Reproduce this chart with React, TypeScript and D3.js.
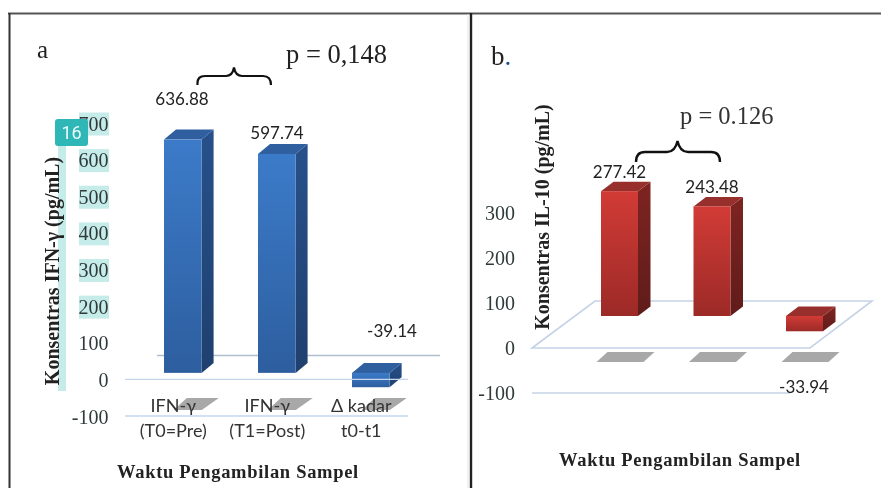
import * as d3 from "d3";

const W = 881;
const H = 488;
const SERIF = "'Liberation Serif', serif";
const SANS = "Lato, sans-serif";

// values
const ifnCategories = ["pre", "post", "delta"];
const ifnValues = [636.88, 597.74, -39.14];
const ifnLabelTop = ["IFN-γ", "IFN-γ", "Δ kadar"];
const ifnLabelBottom = ["(T0=Pre)", "(T1=Post)", "t0-t1"];
const il10Categories = ["pre", "post", "delta"];
const il10Values = [277.42, 243.48, -33.94];

interface Palette {
  id: string;
  frontTop: string;
  frontBottom: string;
  sideTop: string;
  sideBottom: string;
  top: string;
}

const BLUE: Palette = {
  id: "blue",
  frontTop: "#3c7bc9",
  frontBottom: "#2d5e9f",
  sideTop: "#27508a",
  sideBottom: "#1f406f",
  top: "#2f5f9f",
};
const RED: Palette = {
  id: "red",
  frontTop: "#d23b36",
  frontBottom: "#9c2a27",
  sideTop: "#7e2421",
  sideBottom: "#5f1c1a",
  top: "#97302c",
};

const poly = (pts: [number, number][]) => {
  const p = d3.path();
  pts.forEach(([x, y], i) => (i === 0 ? p.moveTo(x, y) : p.lineTo(x, y)));
  p.closePath();
  return p.toString();
};

function Bars({
  values,
  x,
  y,
  lift,
  dx,
  dy,
  pal,
  keys,
}: {
  values: number[];
  x: d3.ScaleBand<string>;
  y: d3.ScaleLinear<number, number>;
  lift: number;
  dx: number;
  dy: number;
  pal: Palette;
  keys: string[];
}) {
  return (
    <g>
      {values.map((v, i) => {
        const x0 = x(keys[i]) as number;
        const x1 = x0 + x.bandwidth();
        const yTop = Math.min(y(v), y(0)) - lift;
        const yBot = Math.max(y(v), y(0)) - lift;
        return (
          <g key={keys[i]}>
            <path
              d={poly([[x1, yTop], [x1 + dx, yTop - dy], [x1 + dx, yBot - dy], [x1, yBot]])}
              fill={`url(#${pal.id}-side)`}
            />
            <path
              d={poly([[x0, yTop], [x0 + dx, yTop - dy], [x1 + dx, yTop - dy], [x1, yTop]])}
              fill={pal.top}
            />
            <rect x={x0} y={yTop} width={x.bandwidth()} height={yBot - yTop} fill={`url(#${pal.id}-front)`} />
          </g>
        );
      })}
    </g>
  );
}

function PanelA() {
  const y = d3.scaleLinear().domain([-100, 700]).range([417, 124]);
  const x = d3
    .scaleBand<string>()
    .domain(ifnCategories)
    .range([135.8, 417.8])
    .paddingInner(0.6)
    .paddingOuter(0.3);
  const highlighted = [200, 300, 400, 500, 600, 700];
  const valueX = [182, 277, 392];
  const valueY = [105, 139, 337];

  return (
    <g>
      <rect x={58} y={146} width={8} height={245} fill="#c6ecea" />
      {highlighted.map((t) => (
        <rect key={t} x={79} y={y(t) - 11.5} width={30} height={23} fill="#c6ecea" />
      ))}
      <line x1={157} x2={440} y1={355.5} y2={355.5} stroke="#aebfcd" strokeWidth={1.6} />
      <line x1={125} x2={408} y1={y(-100) - 1} y2={y(-100) - 1} stroke="#c3d6ee" strokeWidth={1.4} />
      {ifnCategories.map((c) => {
        const cx = (x(c) as number) + x.bandwidth() / 2;
        return (
          <path
            key={c}
            d={poly([[cx - 9, 410], [cx + 19, 410], [cx + 36, 398], [cx + 4, 398]])}
            fill="#a8a8a8"
          />
        );
      })}
      <Bars values={ifnValues} x={x} y={y} lift={7.5} dx={12} dy={10} pal={BLUE} keys={ifnCategories} />
      <line x1={125} x2={408} y1={y(0) - 1} y2={y(0) - 1} stroke="#c3d6ee" strokeWidth={1.4} />
      {y.ticks(8).map((t) => (
        <text key={t} x={108.5} y={y(t) + 6.5} textAnchor="end" fontFamily={SERIF} fontSize={20} fill="#2f3a3a">
          {String(t)}
        </text>
      ))}
      {ifnValues.map((v, i) => (
        <text key={i} x={valueX[i]} y={valueY[i]} textAnchor="middle" fontFamily={SANS} fontSize={17} fill="#222">
          {v}
        </text>
      ))}
      {ifnCategories.map((c, i) => {
        const cx = (x(c) as number) + x.bandwidth() / 2 - 9.5;
        return (
          <g key={c} textAnchor="middle" fontFamily={SANS} fontSize={18} fill="#333">
            <text x={cx} y={412}>{ifnLabelTop[i]}</text>
            <text x={cx} y={437}>{ifnLabelBottom[i]}</text>
          </g>
        );
      })}
      <text
        transform="translate(59,271) rotate(-90)"
        textAnchor="middle"
        fontFamily={SERIF}
        fontWeight="bold"
        fontSize={20}
        fill="#222"
      >
        Konsentras IFN-γ (pg/mL)
      </text>
      <text x={238} y={478} textAnchor="middle" fontFamily={SERIF} fontWeight="bold" fontSize={18.5} letterSpacing={0.7} fill="#222">
        Waktu Pengambilan Sampel
      </text>
      <text x={37} y={58} fontFamily={SERIF} fontSize={25} fill="#222">a</text>
      <text x={286} y={63} fontFamily={SERIF} fontSize={26.5} fill="#222">p = 0,148</text>
      <path
        d="M197.5,85 C197,78 200,76 205,76 L226,76 C231,76 233,73 234,67.5 C235,73 237,76 242,76 L263,76 C268,76 271,78 271,85"
        fill="none"
        stroke="#111"
        strokeWidth={2.2}
      />
      <rect x={55} y={119} width={33} height={27} rx={3} fill="#2fb6b6" />
      <text x={71.5} y={139} textAnchor="middle" fontFamily="Roboto, sans-serif" fontSize={18} fill="#e9fbfa">16</text>
    </g>
  );
}

function PanelB() {
  const y = d3.scaleLinear().domain([-100, 300]).range([393, 213]);
  const x = d3
    .scaleBand<string>()
    .domain(il10Categories)
    .range([573.25, 850.75])
    .paddingInner(0.6)
    .paddingOuter(0.3);
  const valueX = [619.5, 712, 804];
  const valueY = [178, 193, 393];

  return (
    <g>
      <path
        d={poly([[532, y(0)], [595, 301], [872, 301], [810, y(0)]])}
        fill="none"
        stroke="#c5d3e6"
        strokeWidth={1.6}
      />
      <line x1={532} x2={790} y1={y(-100)} y2={y(-100)} stroke="#c5d3e6" strokeWidth={1.6} />
      {il10Categories.map((c) => {
        const cx = (x(c) as number) + x.bandwidth() / 2;
        return (
          <path
            key={c}
            d={poly([[cx - 23, 362], [cx + 24, 362], [cx + 35, 352], [cx - 12, 352]])}
            fill="#a8a8a8"
          />
        );
      })}
      <Bars values={il10Values} x={x} y={y} lift={32} dx={12.5} dy={9.5} pal={RED} keys={il10Categories} />
      {y.ticks(4).map((t) => (
        <text key={t} x={515} y={y(t) + 6.5} textAnchor="end" fontFamily={SERIF} fontSize={20} fill="#2f3a3a">
          {String(t)}
        </text>
      ))}
      {il10Values.map((v, i) => (
        <text key={i} x={valueX[i]} y={valueY[i]} textAnchor="middle" fontFamily={SANS} fontSize={17} fill="#222">
          {v}
        </text>
      ))}
      <text
        transform="translate(549,217) rotate(-90)"
        textAnchor="middle"
        fontFamily={SERIF}
        fontWeight="bold"
        fontSize={20}
        fill="#222"
      >
        Konsentras IL-10 (pg/mL)
      </text>
      <text x={680} y={466} textAnchor="middle" fontFamily={SERIF} fontWeight="bold" fontSize={18.5} letterSpacing={0.7} fill="#222">
        Waktu Pengambilan Sampel
      </text>
      <text x={491} y={65} fontFamily={SERIF} fontSize={27} fill="#222">
        b<tspan fill="#1f4e8c">.</tspan>
      </text>
      <text x={680} y={124} fontFamily={SERIF} fontSize={24.5} fill="#333">p = 0.126</text>
      <path
        d="M636,162 C636,155 639,152 645,152 L667,152 C673,152 676,148 677.5,141 C679,148 682,152 688,152 L711,152 C717,152 720,155 720,162"
        fill="none"
        stroke="#111"
        strokeWidth={2.4}
      />
    </g>
  );
}

export default function App() {
  const grads = [BLUE, RED];
  return (
    <svg
      width={W}
      height={H}
      viewBox={`0 0 ${W} ${H}`}
      style={{ position: "absolute", left: 0, top: 0, background: "#fff", filter: "blur(0.4px)" }}
    >
      <defs>
        {grads.map((p) => (
          <g key={p.id}>
            <linearGradient id={`${p.id}-front`} x1="0" y1="0" x2="0" y2="1">
              <stop offset="0" stopColor={p.frontTop} />
              <stop offset="1" stopColor={p.frontBottom} />
            </linearGradient>
            <linearGradient id={`${p.id}-side`} x1="0" y1="0" x2="0" y2="1">
              <stop offset="0" stopColor={p.sideTop} />
              <stop offset="1" stopColor={p.sideBottom} />
            </linearGradient>
          </g>
        ))}
      </defs>
      <line x1={8} x2={W} y1={13.5} y2={13.5} stroke="#555" strokeWidth={2} />
      <line x1={9.5} x2={9.5} y1={13} y2={H} stroke="#333" strokeWidth={2} />
      <line x1={471} x2={471} y1={13} y2={H} stroke="#222" strokeWidth={2.4} />
      <line x1={468} x2={468} y1={14} y2={H} stroke="#e4e4e4" strokeWidth={1} />
      <PanelA />
      <PanelB />
    </svg>
  );
}
